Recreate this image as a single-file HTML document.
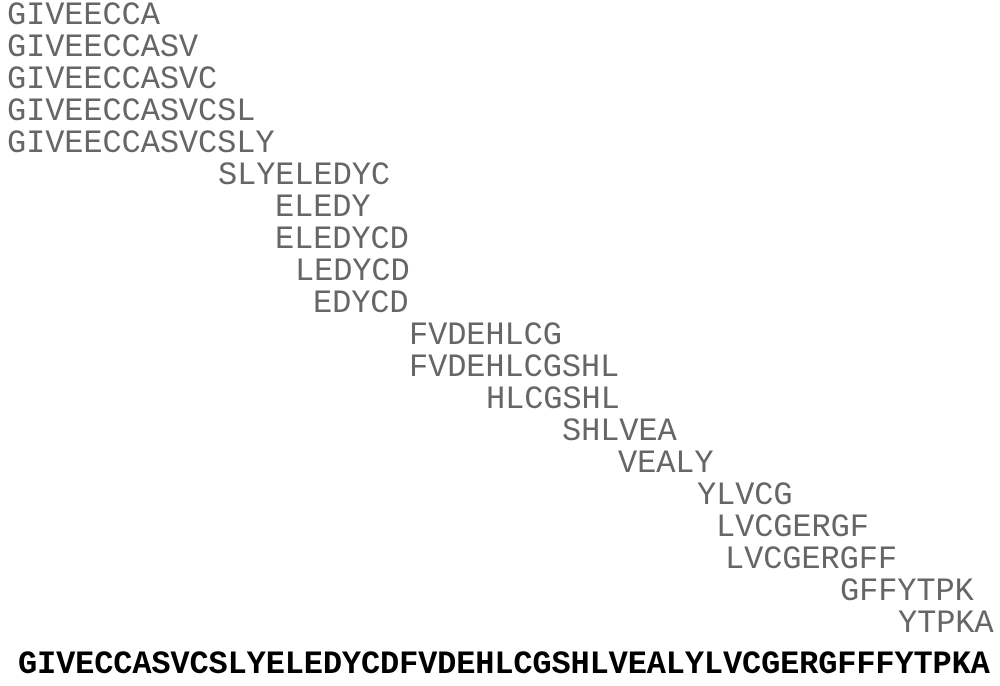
<!DOCTYPE html>
<html><head><meta charset="utf-8"><style>
body{margin:0;width:1000px;height:686px;background:#fff;position:relative;overflow:hidden}
div{position:absolute;font-family:"Courier New","Liberation Mono",monospace;font-size:32px;line-height:32px;color:#666;white-space:pre;letter-spacing:-0.1px}
.b{color:#000;font-weight:bold;letter-spacing:-0.15px}
</style></head><body>
<div style="left:7px;top:0px">GIVEECCA</div>
<div style="left:7px;top:32px">GIVEECCASV</div>
<div style="left:7px;top:64px">GIVEECCASVC</div>
<div style="left:7px;top:96px">GIVEECCASVCSL</div>
<div style="left:7px;top:128px">GIVEECCASVCSLY</div>
<div style="left:218px;top:160px">SLYELEDYC</div>
<div style="left:275px;top:192px">ELEDY</div>
<div style="left:275px;top:224px">ELEDYCD</div>
<div style="left:295px;top:256px">LEDYCD</div>
<div style="left:313px;top:288px">EDYCD</div>
<div style="left:409px;top:320px">FVDEHLCG</div>
<div style="left:409px;top:352px">FVDEHLCGSHL</div>
<div style="left:486px;top:384px">HLCGSHL</div>
<div style="left:562px;top:416px">SHLVEA</div>
<div style="left:618px;top:448px">VEALY</div>
<div style="left:697px;top:480px">YLVCG</div>
<div style="left:716px;top:512px">LVCGERGF</div>
<div style="left:725px;top:544px">LVCGERGFF</div>
<div style="left:840px;top:576px">GFFYTPK</div>
<div style="left:898px;top:608px">YTPKA</div>
<div class="b" style="left:18px;top:649px">GIVECCASVCSLYELEDYCDFVDEHLCGSHLVEALYLVCGERGFFFYTPKA</div>
</body></html>
